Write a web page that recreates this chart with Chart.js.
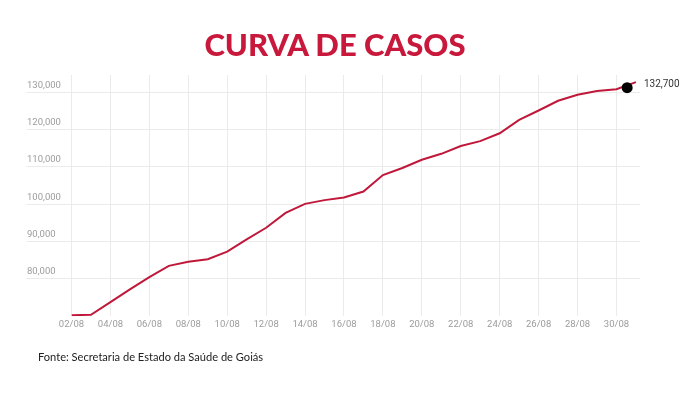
<!DOCTYPE html>
<html>
<head>
<meta charset="utf-8">
<script src="https://cdn.jsdelivr.net/npm/chart.js@4.4.1/dist/chart.umd.min.js"></script>
<style>
html,body{margin:0;padding:0;background:#fff;}
#wrap{position:relative;width:700px;height:393px;overflow:hidden;background:#fff;}
canvas{position:absolute;left:0;top:0;}
#title{position:absolute;left:0;width:670px;top:29px;text-align:center;font-family:Lato,sans-serif;font-weight:900;font-size:31px;line-height:31px;color:#c8193c;white-space:nowrap;}
#source{position:absolute;left:38px;top:350px;font-family:Lato,sans-serif;font-size:11.1px;line-height:13px;color:#222;white-space:nowrap;}
</style>
</head>
<body>
<div id="wrap">
  <canvas id="c" width="700" height="393"></canvas>
  <div id="title">CURVA DE CASOS</div>
  <div id="source">Fonte: Secretaria de Estado da Saúde de Goiás</div>
</div>
<script>
// ---- data ----
const days = [2,3,4,5,6,7,8,9,10,11,12,13,14,15,16,17,18,19,20,21,22,23,24,25,26,27,28,29,30,31];
const cases = [70300,70400,73800,77200,80500,83500,84600,85300,87300,90600,93700,97700,100100,101100,101800,103400,107800,109700,111900,113500,115600,116900,119000,122600,125100,127700,129300,130300,130800,132700];
const markerX = [30.55];
const markerY = [131200];
const xTickLabels = ['02/08','04/08','06/08','08/08','10/08','12/08','14/08','16/08','18/08','20/08','22/08','24/08','26/08','28/08','30/08'];
const yTickValues = [80000,90000,100000,110000,120000,130000];

const lineColor = '#c0183a';
const gridColor = '#ebebeb';
const tickFont = {family:'Roboto', size:9.5};
const tickColor = '#9c9c9c';

const endLabel = {
  id: 'endLabel',
  afterDatasetsDraw(chart) {
    const meta = chart.getDatasetMeta(1);
    const p = meta.data[meta.data.length - 1];
    const ctx = chart.ctx;
    ctx.save();
    ctx.font = '10px Roboto';
    ctx.fillStyle = '#333';
    ctx.textAlign = 'left';
    ctx.textBaseline = 'middle';
    ctx.fillText(cases[cases.length - 1].toLocaleString('en-US'), p.x + 8, p.y + 2);
    ctx.restore();
  }
};

new Chart(document.getElementById('c'), {
  type: 'line',
  data: {
    datasets: [
      {
        type: 'scatter',
        data: markerX.map((x, i) => ({x: x, y: markerY[i]})),
        pointRadius: 5.5,
        pointBackgroundColor: '#000',
        pointBorderWidth: 0,
        showLine: false,
        order: 0
      },
      {
        data: days.map((d, i) => ({x: d, y: cases[i]})),
        borderColor: lineColor,
        borderWidth: 2,
        pointRadius: 0,
        tension: 0,
        fill: false,
        order: 1
      }
    ]
  },
  options: {
    responsive: false,
    animation: false,
    layout: {padding: {left: 27, right: 60, top: 75, bottom: 56.7}},
    plugins: {legend: {display: false}, tooltip: {enabled: false}, title: {display: false}},
    scales: {
      x: {
        type: 'linear',
        min: 2,
        max: 31.21,
        afterBuildTicks: s => { s.ticks = xTickLabels.map(l => ({value: parseInt(l, 10)})); },
        afterFit: s => { s.height = 20; },
        ticks: {
          autoSkip: false, maxRotation: 0, padding: 3,
          font: tickFont, color: tickColor,
          callback: v => xTickLabels.find(l => parseInt(l, 10) === v) || ''
        },
        grid: {color: gridColor, drawTicks: false, lineWidth: 1},
        border: {display: false}
      },
      y: {
        type: 'linear',
        min: 70000,
        max: 134600,
        afterBuildTicks: s => { s.ticks = yTickValues.map(v => ({value: v})); },
        afterFit: s => { s.width = 44.5; },
        ticks: {
          crossAlign: 'far', labelOffset: -7, padding: 0,
          font: tickFont, color: tickColor,
          callback: v => v.toLocaleString('en-US')
        },
        grid: {color: gridColor, tickLength: 45, lineWidth: 1},
        border: {display: false}
      }
    }
  },
  plugins: [endLabel]
});
</script>
</body>
</html>
